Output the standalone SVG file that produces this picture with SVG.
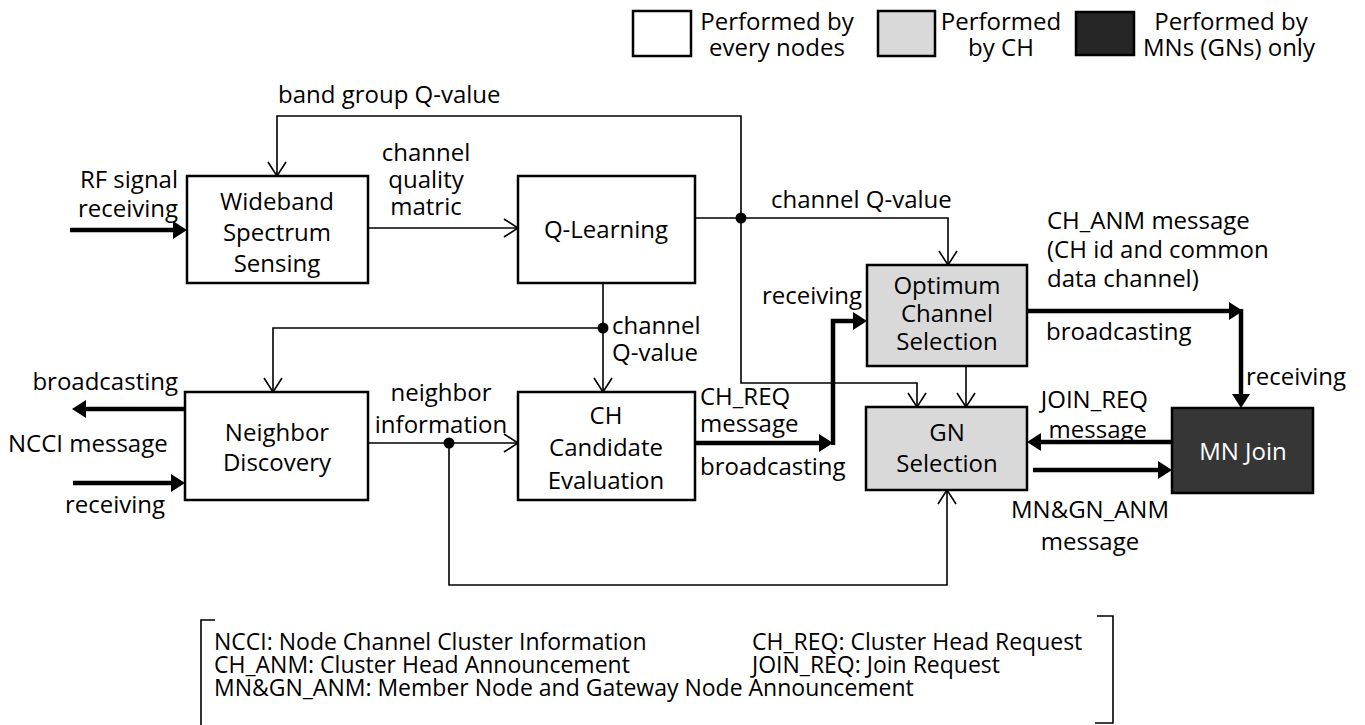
<svg xmlns="http://www.w3.org/2000/svg" width="1365" height="725" viewBox="0 0 1365 725">
  <style>
    text { font-family: "Open Sans", "Noto Sans", "DejaVu Sans", sans-serif; font-size: 24px; fill: #000; }
    .c { text-anchor: middle; }
    .e { text-anchor: end; }
    .note { font-size: 23px; }
    .box { fill: #fff; stroke: #000; stroke-width: 2.5; }
    .ch { fill: #d9d9d9; stroke: #000; stroke-width: 2.5; }
    .mn { fill: #363636; stroke: #000; stroke-width: 2.5; }
    .dark { fill: #262626; stroke: #000; stroke-width: 2.5; }
    .thin { fill: none; stroke: #000; stroke-width: 1.6; }
    .open { marker-end: url(#open); }
    .thick { fill: none; stroke: #000; stroke-width: 4.5; marker-end: url(#solid); }
    .white { fill: #fff; }
  </style>
  <defs>
    <marker id="open" viewBox="0 0 16 20" refX="15" refY="10" markerWidth="16" markerHeight="20" markerUnits="userSpaceOnUse" orient="auto">
      <path d="M1,1 L15,10 L1,19" fill="none" stroke="#000" stroke-width="1.6"/>
    </marker>
    <marker id="solid" viewBox="0 0 14 18" refX="4" refY="9" markerWidth="14" markerHeight="18" markerUnits="userSpaceOnUse" orient="auto">
      <path d="M0,0 L14,9 L0,18 Z" fill="#000"/>
    </marker>
  </defs>

  <!-- legend -->
  <g id="legend">
    <rect class="box" x="633" y="11" width="58" height="45"/>
    <text class="c" x="777" y="30">Performed by</text>
    <text class="c" x="777" y="56">every nodes</text>
    <rect class="ch" x="878" y="11" width="57" height="45"/>
    <text class="c" x="1001" y="30">Performed</text>
    <text class="c" x="1001" y="56">by CH</text>
    <rect class="dark" x="1076" y="12" width="58" height="43"/>
    <text class="c" x="1231" y="30">Performed by</text>
    <text class="c" x="1229" y="56">MNs (GNs) only</text>
  </g>

  <!-- connectors -->
  <g id="connectors">
    <path class="thin open" d="M741,218 V116 H277 V176"/>
    <path class="thin open" d="M741,218 V383 H917 V407"/>
    <path class="thin open" d="M695,218 H948 V265"/>
    <path class="thin open" d="M368,228 H518"/>
    <path class="thin open" d="M603,283 V392"/>
    <path class="thin open" d="M603,328 H273 V392"/>
    <path class="thin open" d="M368,443 H518"/>
    <path class="thin open" d="M449,443 V585 H947 V490"/>
    <path class="thin open" d="M966,366 V407"/>
    <circle cx="741" cy="218" r="5.5"/>
    <circle cx="603" cy="328" r="5.5"/>
    <circle cx="449" cy="443" r="5.5"/>

    <path class="thick" d="M70,230 H177"/>
    <path class="thick" d="M188,409 H82"/>
    <path class="thick" d="M73,483 H175"/>
    <path class="thick" d="M695,443 H823"/>
    <path class="thick" d="M833,445 V321 H857"/>
    <path class="thick" d="M1027,311 H1233"/>
    <path class="thick" d="M1241,309 V398"/>
    <path class="thick" d="M1172,442 H1037"/>
    <path class="thick" d="M1033,470 H1162"/>
  </g>

  <!-- connector labels -->
  <g id="labels">
    <text x="278" y="103">band group Q-value</text>
    <text class="c" x="426" y="161">channel</text>
    <text class="c" x="426" y="188">quality</text>
    <text class="c" x="426" y="215">matric</text>
    <text class="e" x="178" y="188">RF signal</text>
    <text class="e" x="178" y="217">receiving</text>
    <text x="771" y="208">channel Q-value</text>
    <text x="612" y="334">channel</text>
    <text x="612" y="361">Q-value</text>
    <text class="e" x="862" y="304">receiving</text>
    <text x="1047" y="229">CH_ANM message</text>
    <text x="1047" y="258">(CH id and common</text>
    <text x="1047" y="287">data channel)</text>
    <text x="1046" y="340">broadcasting</text>
    <text x="1246" y="385">receiving</text>
    <text class="e" x="178" y="390">broadcasting</text>
    <text x="8" y="452">NCCI message</text>
    <text x="65" y="513">receiving</text>
    <text class="c" x="441" y="401">neighbor</text>
    <text class="c" x="441" y="433">information</text>
    <text x="700" y="405">CH_REQ</text>
    <text x="700" y="432">message</text>
    <text x="700" y="475">broadcasting</text>
    <text class="e" x="1148" y="408">JOIN_REQ</text>
    <text class="e" x="1147" y="438">message</text>
    <text class="c" x="1090" y="518">MN&amp;GN_ANM</text>
    <text class="c" x="1090" y="550">message</text>
  </g>

  <!-- nodes -->
  <g id="wideband">
    <rect class="box" x="187" y="176" width="181" height="107"/>
    <text class="c" x="277" y="210">Wideband</text>
    <text class="c" x="277" y="241">Spectrum</text>
    <text class="c" x="277" y="272">Sensing</text>
  </g>
  <g id="qlearning">
    <rect class="box" x="518" y="176" width="177" height="107"/>
    <text class="c" x="606" y="238">Q-Learning</text>
  </g>
  <g id="neighbor">
    <rect class="box" x="185" y="392" width="183" height="108"/>
    <text class="c" x="277" y="441">Neighbor</text>
    <text class="c" x="277" y="471">Discovery</text>
  </g>
  <g id="ch-candidate">
    <rect class="box" x="518" y="392" width="177" height="108"/>
    <text class="c" x="606" y="424">CH</text>
    <text class="c" x="606" y="456">Candidate</text>
    <text class="c" x="606" y="489">Evaluation</text>
  </g>
  <g id="optimum">
    <rect class="ch" x="867" y="265" width="160" height="101"/>
    <text class="c" x="947" y="294">Optimum</text>
    <text class="c" x="947" y="322">Channel</text>
    <text class="c" x="947" y="350">Selection</text>
  </g>
  <g id="gn-selection">
    <rect class="ch" x="866" y="407" width="161" height="83"/>
    <text class="c" x="947" y="441">GN</text>
    <text class="c" x="947" y="472">Selection</text>
  </g>
  <g id="mn-join">
    <rect class="mn" x="1172" y="408" width="141" height="85"/>
    <text class="c white" x="1243" y="460">MN Join</text>
  </g>

  <!-- abbreviations -->
  <g id="abbreviations">
    <path class="thin" d="M215,620 H201 V725"/>
    <path class="thin" d="M1097,616 H1113 V723 H1095"/>
    <text class="note" x="214" y="650">NCCI: Node Channel Cluster Information</text>
    <text class="note" x="752" y="650">CH_REQ: Cluster Head Request</text>
    <text class="note" x="214" y="673">CH_ANM: Cluster Head Announcement</text>
    <text class="note" x="752" y="673">JOIN_REQ: Join Request</text>
    <text class="note" x="214" y="696">MN&amp;GN_ANM: Member Node and Gateway Node Announcement</text>
  </g>
</svg>
